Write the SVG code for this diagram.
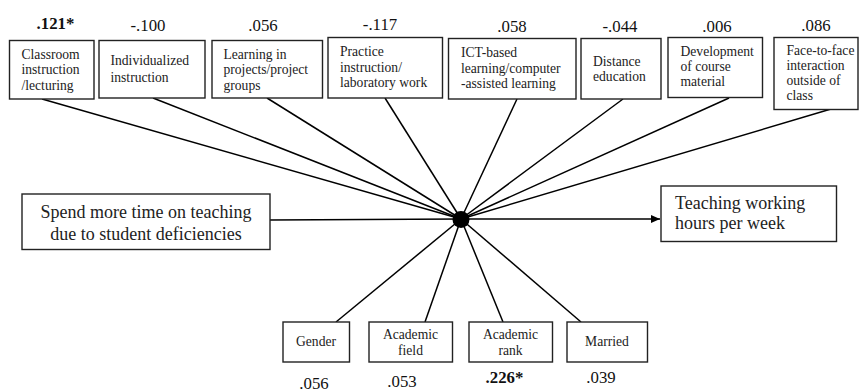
<svg xmlns="http://www.w3.org/2000/svg" width="859" height="392" viewBox="0 0 859 392" font-family="Liberation Serif, Times New Roman, serif">
  <style>
    .box { fill: #fff; stroke: #222; stroke-width: 1.4; }
    .edge { stroke: #000; stroke-width: 1.5; fill: none; }
    text { font-family: "Liberation Serif", "Times New Roman", serif; fill: #222; }
    .lbl { font-size: 13.6px; }
    .mid { text-anchor: middle; }
    .coef { font-size: 16.8px; fill: #111; text-anchor: middle; }
    .sig { font-weight: bold; }
    .big { font-size: 18px; }
  </style>
  <defs>
    <marker id="arrow" markerWidth="10" markerHeight="10" refX="9" refY="5" orient="auto" markerUnits="userSpaceOnUse">
      <path d="M0,1 L9,5 L0,9 Z" fill="#000"/>
    </marker>
  </defs>

  <rect width="859" height="392" fill="#fff"/>

  <!-- connectors: every predictor meets at the hub -->
  <g id="connectors">
    <line class="edge" x1="42" y1="99" x2="461" y2="219"/>
    <line class="edge" x1="153" y1="98" x2="461" y2="219"/>
    <line class="edge" x1="267" y1="98" x2="461" y2="219"/>
    <line class="edge" x1="385" y1="98" x2="461" y2="219"/>
    <line class="edge" x1="517" y1="99" x2="461" y2="219"/>
    <line class="edge" x1="623" y1="99" x2="461" y2="219"/>
    <line class="edge" x1="729" y1="98" x2="461" y2="219"/>
    <line class="edge" x1="831" y1="109" x2="461" y2="219"/>
    <line class="edge" x1="270" y1="220" x2="461" y2="219"/>
    <line class="edge" x1="336" y1="322" x2="461" y2="219"/>
    <line class="edge" x1="425" y1="322" x2="461" y2="219"/>
    <line class="edge" x1="503" y1="322" x2="461" y2="219"/>
    <line class="edge" x1="581" y1="322" x2="461" y2="219"/>
    <line class="edge" x1="461" y1="219" x2="660" y2="219" marker-end="url(#arrow)"/>
    <circle id="hub" cx="461" cy="219.5" r="8.5" fill="#000"/>
  </g>

  <!-- top row: teaching methods -->
  <g id="n-classroom">
    <rect class="box" x="9.5" y="40.5" width="84.5" height="58.5"/>
    <text class="lbl" x="21.5" y="58.5">Classroom</text>
    <text class="lbl" x="21.5" y="74">instruction</text>
    <text class="lbl" x="21.5" y="89.5">/lecturing</text>
    <text class="coef sig" x="55.5" y="29">.121*</text>
  </g>
  <g id="n-individualized">
    <rect class="box" x="99" y="40.5" width="106" height="57.5"/>
    <text class="lbl" x="110.5" y="65">Individualized</text>
    <text class="lbl" x="110.5" y="81.5">instruction</text>
    <text class="coef" x="148" y="31">-.100</text>
  </g>
  <g id="n-projects">
    <rect class="box" x="212" y="40.5" width="110.5" height="57.5"/>
    <text class="lbl" x="223.5" y="58.5">Learning in</text>
    <text class="lbl" x="223.5" y="74">projects/project</text>
    <text class="lbl" x="223.5" y="89.5">groups</text>
    <text class="coef" x="263" y="31">.056</text>
  </g>
  <g id="n-practice">
    <rect class="box" x="328" y="37.5" width="114.5" height="60.5"/>
    <text class="lbl" x="340" y="56">Practice</text>
    <text class="lbl" x="340" y="71.5">instruction/</text>
    <text class="lbl" x="340" y="87">laboratory work</text>
    <text class="coef" x="380" y="30">-.117</text>
  </g>
  <g id="n-ict">
    <rect class="box" x="448.5" y="38.5" width="127.5" height="60.5"/>
    <text class="lbl" x="461" y="57">ICT-based</text>
    <text class="lbl" x="461" y="72.5">learning/computer</text>
    <text class="lbl" x="461" y="88">-assisted learning</text>
    <text class="coef" x="512" y="32">.058</text>
  </g>
  <g id="n-distance">
    <rect class="box" x="581" y="38.5" width="80" height="60.5"/>
    <text class="lbl" x="593" y="65.5">Distance</text>
    <text class="lbl" x="593" y="81">education</text>
    <text class="coef" x="620" y="32">-.044</text>
  </g>
  <g id="n-development">
    <rect class="box" x="668" y="37.5" width="94.5" height="60"/>
    <text class="lbl" x="680.5" y="56">Development</text>
    <text class="lbl" x="680.5" y="71">of course</text>
    <text class="lbl" x="680.5" y="86">material</text>
    <text class="coef" x="717" y="32">.006</text>
  </g>
  <g id="n-facetoface">
    <rect class="box" x="774" y="37.5" width="84" height="72"/>
    <text class="lbl" x="786.5" y="54.5">Face-to-face</text>
    <text class="lbl" x="786.5" y="69.5">interaction</text>
    <text class="lbl" x="786.5" y="85">outside of</text>
    <text class="lbl" x="786.5" y="100">class</text>
    <text class="coef" x="816" y="31">.086</text>
  </g>

  <!-- middle row: predictor and outcome -->
  <g id="n-deficiencies">
    <rect class="box" x="22" y="194" width="248" height="55.5"/>
    <text class="big mid" x="146" y="217.5">Spend more time on teaching</text>
    <text class="big mid" x="146" y="240">due to student deficiencies</text>
  </g>
  <g id="n-hours">
    <rect class="box" x="661" y="186" width="175.5" height="55.5"/>
    <text class="big" x="675" y="208.5">Teaching working</text>
    <text class="big" x="675" y="228.5">hours per week</text>
  </g>

  <!-- bottom row: controls -->
  <g id="n-gender">
    <rect class="box" x="283" y="322" width="66.5" height="40"/>
    <text class="lbl mid" x="316" y="346">Gender</text>
    <text class="coef" x="314" y="389">.056</text>
  </g>
  <g id="n-field">
    <rect class="box" x="369" y="322" width="83.5" height="40"/>
    <text class="lbl mid" x="410.5" y="338.5">Academic</text>
    <text class="lbl mid" x="410.5" y="355">field</text>
    <text class="coef" x="402" y="387">.053</text>
  </g>
  <g id="n-rank">
    <rect class="box" x="469" y="322" width="83.5" height="40"/>
    <text class="lbl mid" x="510.5" y="338.5">Academic</text>
    <text class="lbl mid" x="510.5" y="355">rank</text>
    <text class="coef sig" x="504.5" y="383">.226*</text>
  </g>
  <g id="n-married">
    <rect class="box" x="567" y="322" width="80.5" height="40"/>
    <text class="lbl mid" x="607" y="346">Married</text>
    <text class="coef" x="601" y="383">.039</text>
  </g>
</svg>
